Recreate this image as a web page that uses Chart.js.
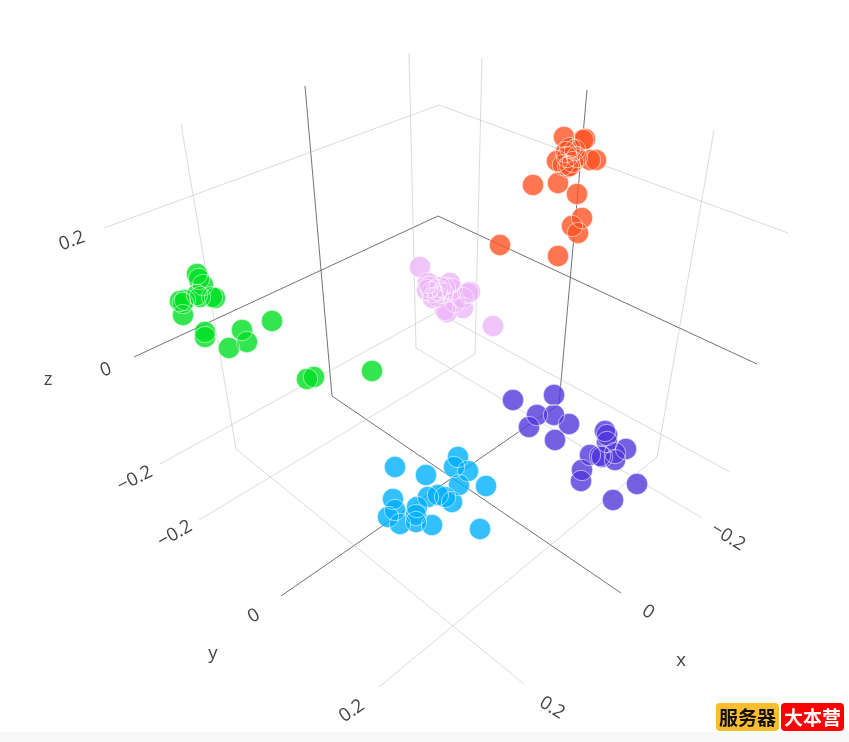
<!DOCTYPE html>
<html>
<head>
<meta charset="utf-8">
<style>
html,body{margin:0;padding:0;background:#fff;width:849px;height:742px;overflow:hidden}
#c{position:absolute;left:0;top:0}
#strip{position:absolute;left:0;top:732px;width:849px;height:10px;background:#f8f8f8}
.b{position:absolute;top:703px;height:28px;line-height:28px;width:63px;text-align:center;border-radius:4px;font:bold 19px/28px "Noto Sans CJK SC",sans-serif}
</style>
<script src="https://cdn.jsdelivr.net/npm/chart.js@4"></script>
</head>
<body>
<div id="strip"></div>
<canvas id="c" width="849" height="742"></canvas>
<div class="b" style="left:716px;background:#fdbd2e;color:#111">服务器</div>
<div class="b" style="left:781px;background:#fe0000;color:#fff">大本营</div>
<script>
// Projected (screen-plane) readings of the 3D scatter
const greenX=[197,199,203,197,200,212,215,180,185,183,183,205,205,242,247,229,272,307,314,372];
const greenY=[274,279,285,295,297,297,298,301,300,303,315,332,337,330,342,348,321,379,377,371];
const blueX=[458,454,468,459,486,395,426,393,395,388,400,417,416,416,432,480,428,438,445,452];
const blueY=[457,467,471,485,486,467,475,499,510,517,524,507,515,522,525,529,497,495,497,502];
const purpleX=[513,554,537,554,529,569,555,605,607,607,590,602,615,626,615,582,581,637,613,600];
const purpleY=[400,395,415,415,427,424,440,431,435,442,455,457,460,449,453,470,481,484,500,456];
const orangeX=[564,585,583,570,557,567,563,570,577,573,568,590,596,533,558,577,582,572,578,500,558,575,566];
const orangeY=[137,139,140,148,161,157,165,166,157,162,167,160,160,185,183,194,218,226,233,245,256,150,152];
const pinkX=[420,428,427,432,437,440,450,445,438,433,445,447,455,463,468,470,463,493,430,443,452];
const pinkY=[267,283,290,292,290,287,283,288,297,298,310,312,302,308,293,292,298,326,287,293,289];

// Grid lines of the box (null separates runs)
const gridX=[104,439,788,null,160,437,730,null,181,236,524,null,409,416,702,null,482,475,199,null,714,657,379];
const gridY=[228,105,233,null,464,312,472,null,124,449,684,null,53,348,518,null,58,354,520,null,130,457,687];
const zeroX=[134,438,757,null,305,332,621,null,587,559,281];
const zeroY=[357,216,364,null,86,396,593,null,90,404,596];

// Axis tick labels and axis titles
const labelText=["0.2","0","\u22120.2","z","\u22120.2","0","0.2","y","\u22120.2","0","0.2","x"];
const labelX=[72,106,135,48,175,254,352,213,728,648,552,681];
const labelY=[241,370,479,380,534,616,711,654,537,612,708,661];
const labelAngle=[-20,-20,-27,0,-30,-30,-35,0,32,32,32,0];

const zip=(xs,ys)=>xs.map((x,i)=>({x:x,y:ys[i]}));
function pts(xs,ys,color){
  return {data:zip(xs,ys),showLine:false,pointRadius:10.7,pointHoverRadius:10.7,
    backgroundColor:color,borderColor:'rgba(255,255,255,0)',pointBorderWidth:0,order:2};
}
function rings(xs,ys){
  return {data:zip(xs,ys),showLine:false,pointRadius:10.7,pointHoverRadius:10.7,
    backgroundColor:'rgba(0,0,0,0)',borderColor:'rgba(255,255,255,0.7)',pointBorderWidth:0.8,order:1};
}
function line(xs,ys,color){
  return {data:zip(xs,ys),showLine:true,spanGaps:false,pointRadius:0,borderColor:color,borderWidth:1,order:5};
}
const axisLabels={id:'axisLabels',afterDatasetsDraw(chart){
  const {ctx,scales:{x,y}}=chart;
  ctx.save();
  ctx.fillStyle='#444';
  ctx.font='18.5px "Open Sans", sans-serif';
  ctx.textAlign='center';ctx.textBaseline='middle';
  labelText.forEach((t,i)=>{
    ctx.save();
    ctx.translate(x.getPixelForValue(labelX[i]),y.getPixelForValue(labelY[i]));
    ctx.rotate(labelAngle[i]*Math.PI/180);
    ctx.fillText(t,0,0);
    ctx.restore();
  });
  ctx.restore();
}};
new Chart(document.getElementById('c'),{
  type:'scatter',
  data:{datasets:[
    line(gridX,gridY,'rgba(190,190,190,0.55)'),
    line(zeroX,zeroY,'rgba(90,90,90,0.85)'),
    pts(pinkX,pinkY,'rgba(236,182,249,0.8)'),
    pts(orangeX,orangeY,'rgba(255,84,36,0.8)'),
    pts(greenX,greenY,'rgba(0,224,36,0.8)'),
    pts(purpleX,purpleY,'rgba(82,56,221,0.8)'),
    pts(blueX,blueY,'rgba(0,176,255,0.8)'),
    rings(pinkX,pinkY),rings(orangeX,orangeY),rings(greenX,greenY),rings(purpleX,purpleY),rings(blueX,blueY)
  ]},
  options:{
    responsive:false,animation:false,devicePixelRatio:1,
    layout:{padding:0,autoPadding:false},
    plugins:{legend:{display:false},tooltip:{enabled:false}},
    scales:{
      x:{type:'linear',display:false,min:0,max:849},
      y:{type:'linear',display:false,min:0,max:742,reverse:true}
    }
  },
  plugins:[axisLabels]
});
</script>
</body>
</html>
